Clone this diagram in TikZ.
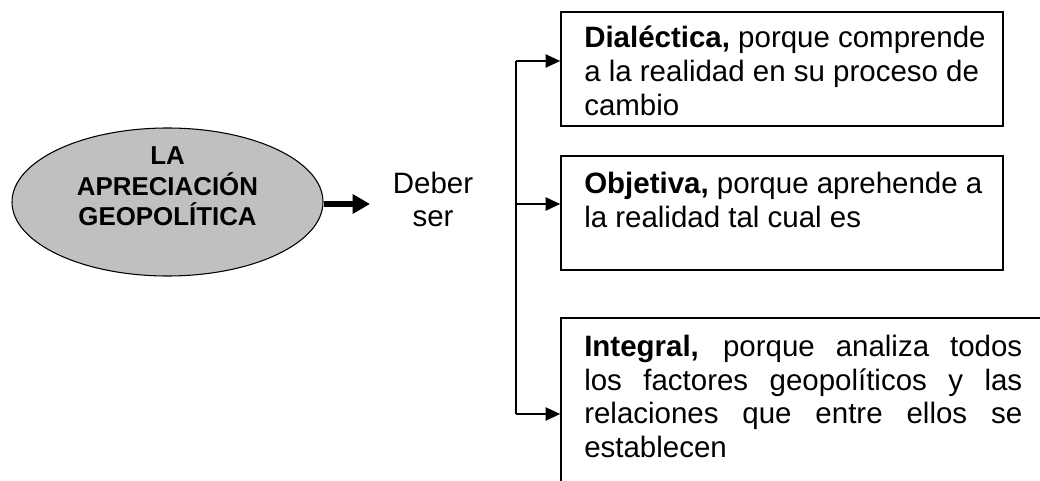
\documentclass[tikz,border=0pt]{standalone}
\usepackage{fontspec}
\setmainfont{Liberation Sans}
\usetikzlibrary{shapes.geometric,arrows.meta}
\definecolor{ellgrey}{RGB}{192,192,192}
\tikzset{
  box/.style={draw=black, line width=1.2pt, rectangle, inner sep=0pt},
  ell/.style={draw=black, line width=0.8pt, ellipse, fill=ellgrey, inner sep=0pt,
              minimum width=233.25pt, minimum height=111pt},
  txt/.style={anchor=base west, inner sep=0pt, font=\fontsize{22.1pt}{25pt}\selectfont},
  ctxt/.style={anchor=base, inner sep=0pt, font=\fontsize{22.1pt}{25pt}\selectfont},
  etxt/.style={anchor=base, inner sep=0pt, font=\fontsize{19.4pt}{22pt}\selectfont\bfseries},
  conn/.style={line width=1.1pt, -{Triangle[length=11pt,width=10pt]}},
  thick arrow/.style={line width=4.5pt, -{Triangle[length=13pt,width=14pt]}},
}
\newcommand{\jl}[1]{\makebox[328.5pt][s]{#1}}
\begin{document}
\begin{tikzpicture}[x=0.75pt,y=-0.75pt]
\useasboundingbox (0,0) rectangle (1040,481);
\clip (0,0) rectangle (1040,481);
\fill[white] (0,0) rectangle (1040,481);

% ellipse
\node[ell] (ell) at (167.5,202) {};
\node[etxt] (e1) at (167.5,165) {LA};
\node[etxt] (e2) at (167.5,195.5) {APRECIACIÓN};
\node[etxt] (e3) at (167.5,226) {GEOPOLÍTICA};

% deber ser
\node[ctxt] (d1) at (433,194) {Deber};
\node[ctxt] (d2) at (433,227) {ser};
\coordinate (ae) at (370,204);
\draw[thick arrow] (ell.east |- ae) -- (ae);

% boxes
\node[box, minimum width=331.5pt, minimum height=85.5pt] (b1) at (782,69) {};
\node[box, minimum width=331.5pt, minimum height=85.5pt] (b2) at (782,213) {};
\node[box, minimum width=374.25pt, minimum height=136.5pt] (b3) at (810.5,409) {};

% box texts
\node[txt] (t11) at (584,48) {\textbf{Dialéctica,} porque comprende};
\node[txt] (t12) at (584,82) {a la realidad en su proceso de};
\node[txt] (t13) at (584,115.5) {cambio};

\node[txt] (t21) at (584,194) {\textbf{Objetiva,} porque aprehende a};
\node[txt] (t22) at (584,228) {la realidad tal cual es};

\node[txt] (t31) at (584,356) {\jl{\textbf{Integral,} porque analiza todos}};
\node[txt] (t32) at (584,390) {\jl{los factores geopolíticos y las}};
\node[txt] (t33) at (584,423) {\jl{relaciones que entre ellos se}};
\node[txt] (t34) at (584,457) {establecen};

% connectors
\coordinate (j1) at (516,61);
\coordinate (j2) at (516,204);
\coordinate (j3) at (516,414);
\draw[line width=1.1pt] (j1) -- (j3);
\draw[conn] (j1) -- (j1 -| b1.west);
\draw[conn] (j2) -- (j2 -| b2.west);
\draw[conn] (j3) -- (j3 -| b3.west);
\end{tikzpicture}
\end{document}
